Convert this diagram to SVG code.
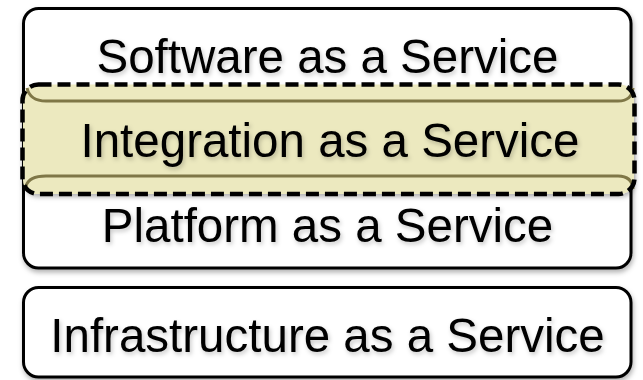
<svg xmlns="http://www.w3.org/2000/svg" width="643" height="380" viewBox="0 0 643 380">
  <defs>
    <filter id="boxShadow" x="-5%" y="-5%" width="110%" height="115%">
      <feDropShadow dx="1" dy="3" stdDeviation="2.5" flood-color="#000" flood-opacity="0.3"/>
    </filter>
    <filter id="textShadow" x="-5%" y="-20%" width="110%" height="150%">
      <feDropShadow dx="1.5" dy="2.5" stdDeviation="2" flood-color="#000" flood-opacity="0.22"/>
    </filter>
    <style>
      .box { fill: #ffffff; stroke: #000000; stroke-width: 3; }
      .label { font-family: "Liberation Sans", Arial, sans-serif; font-size: 47.5px; fill: #000000; text-anchor: middle; }
      .band { fill: #ece9bf; }
      .curl { fill: none; stroke: #7f7747; stroke-width: 3; }
      .dashed { fill: none; stroke: #000000; stroke-width: 4.5; stroke-dasharray: 13 6; }
    </style>
  </defs>

  <!-- SaaS / PaaS stack -->
  <g id="saas-paas" filter="url(#boxShadow)">
    <rect class="box" x="23.5" y="8.5" width="607.5" height="259.5" rx="15"/>
  </g>
  <g id="saas">
    <text class="label" x="327.5" y="73" filter="url(#textShadow)">Software as a Service</text>
  </g>
  <g id="paas">
    <text class="label" x="327.5" y="242" filter="url(#textShadow)">Platform as a Service</text>
  </g>

  <!-- IaaS -->
  <g id="iaas">
    <rect class="box" x="23.5" y="287.5" width="607.5" height="89.5" rx="15" filter="url(#boxShadow)"/>
    <text class="label" x="327.5" y="352" filter="url(#textShadow)">Infrastructure as a Service</text>
  </g>

  <!-- Integration layer: scroll band with dashed outline -->
  <g id="integration">
    <rect class="band" x="23" y="84.5" width="611" height="109.5" rx="14" filter="url(#boxShadow)"/>
    <path class="curl" d="M 27,88 Q 30,101 46,101 L 618,101 Q 632,101 633,88"/>
    <path class="curl" d="M 26,186 Q 29,176 46,176 L 618,176 Q 632,176 633,189"/>
    <text class="label" x="330" y="157" filter="url(#textShadow)">Integration as a Service</text>
    <rect class="dashed" x="22.5" y="84.5" width="612" height="109.5" rx="16"/>
  </g>
</svg>
